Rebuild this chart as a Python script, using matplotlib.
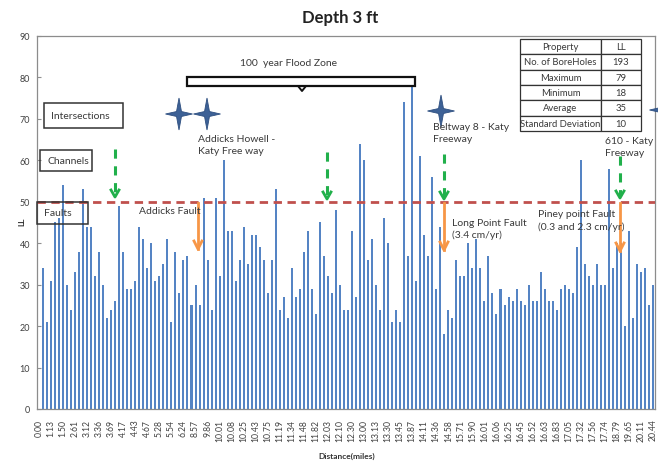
import numpy as np
import matplotlib
matplotlib.use("Agg")
from matplotlib import pyplot as plt
from matplotlib.patches import Rectangle, Polygon
from matplotlib.lines import Line2D

plt.rcParams['font.family'] = ['Lato', 'DejaVu Sans']

# distance labels shown under every third bore hole
distance_labels = ["0.00", "1.13", "1.50", "2.61", "3.12", "3.36", "3.69", "4.17", "4.43",
                   "4.67", "5.28", "5.54", "6.24", "8.57", "9.86", "10.01", "10.08", "10.25",
                   "10.43", "10.75", "11.19", "11.34", "11.48", "11.82", "12.03", "12.10",
                   "12.30", "13.00", "13.13", "13.30", "13.45", "13.87", "14.11", "14.36",
                   "14.58", "15.71", "15.90", "16.01", "16.06", "16.25", "16.45", "16.52",
                   "16.63", "16.83", "17.05", "17.32", "17.56", "17.74", "18.79", "19.65",
                   "20.11", "20.44"]

# liquid limit per bore hole (first position has no value)
ll_values = [0,
             34, 21, 31, 45, 46, 54, 30, 24, 33, 38,
             53, 44, 44, 32, 38, 30, 22, 24, 26, 49,
             38, 29, 29, 31, 44, 41, 34, 40, 31, 32,
             35, 41, 21, 38, 28, 36, 37, 25, 30, 25,
             51, 36, 24, 51, 32, 60, 43, 43, 31, 36,
             44, 35, 42, 42, 39, 36, 28, 36, 53, 24,
             27, 22, 34, 27, 29, 38, 43, 29, 23, 45,
             37, 32, 28, 48, 30, 24, 24, 43, 27, 64,
             60, 36, 41, 30, 24, 46, 40, 21, 24, 21,
             74, 37, 79, 31, 61, 42, 37, 56, 29, 44,
             18, 24, 22, 36, 32, 32, 40, 34, 41, 34,
             26, 37, 28, 23, 29, 25, 27, 26, 29, 26,
             25, 30, 26, 26, 33, 29, 26, 26, 24, 29,
             30, 29, 28, 39, 60, 35, 32, 30, 35, 30,
             30, 58, 34, 40, 40, 20, 43, 22, 35, 33,
             34, 25, 30]

label_step = 3
limit_line = 50

table_props = ["Property", "No. of BoreHoles", "Maximum", "Minimum", "Average", "Standard Deviation"]
table_vals = ["LL", "193", "79", "18", "35", "10"]

W, H = 658, 464
fig = plt.figure(figsize=(W / 100, H / 100), dpi=100)


def fx(x):
    return x / W


def fy(y):
    return 1 - y / H


ax = fig.add_axes([fx(37), fy(410), (655 - 37) / W, (410 - 37) / H])

pos = np.arange(len(ll_values))
ax.bar(pos, ll_values, width=0.5, color="#5584c4", linewidth=0, antialiased=False, zorder=2)
ax.axhline(limit_line, color="#c0504d", lw=2, ls=(0, (3, 2)), zorder=5)

ax.set_xlim(-0.5, len(ll_values) - 0.5)
ax.set_ylim(0, 90)
ax.set_yticks(np.arange(0, 91, 10))
ax.set_xticks(pos[::label_step])
ax.set_xticklabels(distance_labels, rotation=90, fontsize=6.2, color="#404040")
ax.tick_params(axis="x", length=0, pad=7)
ax.tick_params(axis="y", direction="in", length=3, color="#909090", labelsize=6.5,
               labelcolor="#404040", pad=5)
for s in ax.spines.values():
    s.set_color("#8c8c8c")
    s.set_linewidth(0.9)

fig.text(fx(340), fy(18), "Depth 3 ft", ha="center", va="center", fontsize=12, fontweight="bold",
         color="#222222")
fig.text(fx(347), fy(456), "Distance(miles)", ha="center", va="center", fontsize=6,
         fontweight="bold", color="#333333")
fig.text(fx(22), fy(222), "LL", ha="center", va="center", fontsize=6, fontweight="bold",
         rotation=90, color="#333333")

# legend style boxes on the left
for (x0, y0, x1, y1, txt) in [(44, 104, 123, 129, "Intersections"),
                              (40, 151, 92, 172, "Channels"),
                              (37, 203, 88, 225, "Faults")]:
    fig.add_artist(Rectangle((fx(x0), fy(y1)), (x1 - x0) / W, (y1 - y0) / H,
                             transform=fig.transFigure, facecolor="none",
                             edgecolor="#333333", lw=1.1, zorder=4))
    fig.text(fx(x0 + 7), fy((y0 + y1) / 2), txt, ha="left", va="center", fontsize=7.5,
             color="#3a3a3a", zorder=6)

# flood zone bracket
fig.add_artist(Rectangle((fx(187), fy(87)), (415 - 187) / W, 9 / H, transform=fig.transFigure,
                         facecolor="white", edgecolor="#111111", lw=1.6, zorder=3))
fig.add_artist(Line2D([fx(298), fx(302), fx(306)], [fy(87), fy(92), fy(87)],
                      transform=fig.transFigure, color="#111111", lw=1.4))
fig.text(fx(288), fy(63), "100  year Flood Zone", ha="center", va="center", fontsize=7.5,
         color="#3a3a3a")


def star(cx, cy):
    pts = []
    for k in range(8):
        a = np.pi / 2 + k * np.pi / 4
        if k % 2 == 0:
            rx, ry = 13.5, 16
        else:
            rx, ry = 3.5, 3.5
        pts.append((fx(cx + rx * np.cos(a)), fy(cy - ry * np.sin(a))))
    fig.add_artist(Polygon(pts, closed=True, transform=fig.transFigure,
                           facecolor="#3d6196", edgecolor="#2e4f80", lw=0.6, zorder=6))


for cx, cy in [(179, 115), (207, 115), (441, 112), (663, 111)]:
    star(cx, cy)


def green_arrow(x, y0, y1):
    fig.add_artist(Line2D([fx(x), fx(x)], [fy(y0), fy(y1 - 2)], transform=fig.transFigure,
                          color="#21b04b", lw=2.2, ls=(0, (3, 2.5)), zorder=6))
    fig.add_artist(Line2D([fx(x - 4), fx(x), fx(x + 4)], [fy(y1 - 7), fy(y1), fy(y1 - 7)],
                          transform=fig.transFigure, color="#21b04b", lw=2, zorder=6))


def orange_arrow(x, y0, y1):
    fig.add_artist(Line2D([fx(x), fx(x)], [fy(y0), fy(y1)], transform=fig.transFigure,
                          color="#f79646", lw=2, zorder=6))
    fig.add_artist(Line2D([fx(x - 4), fx(x), fx(x + 4)], [fy(y1 - 8), fy(y1), fy(y1 - 8)],
                          transform=fig.transFigure, color="#f79646", lw=2, zorder=6))


for x, y0, y1 in [(115, 150, 198), (327, 153, 200), (444, 155, 200), (620, 157, 199)]:
    green_arrow(x, y0, y1)
for x, y0, y1 in [(198, 204, 250), (444, 204, 251), (620, 204, 252)]:
    orange_arrow(x, y0, y1)

notes = [(198, 145.5, "Addicks Howell -\nKaty Free way"),
         (139, 212, "Addicks Fault"),
         (433, 133.5, "Beltway 8 - Katy\nFreeway"),
         (605, 147.5, "610 - Katy\nFreeway"),
         (452, 229.5, "Long Point Fault\n(3.4 cm/yr)"),
         (538, 221, "Piney point Fault\n(0.3 and 2.3 cm/yr)")]
for x, y, txt in notes:
    fig.text(fx(x), fy(y), txt, ha="left", va="center", fontsize=7.5, color="#3a3a3a",
             linespacing=1.45, zorder=7)

# summary table
tx0, tx1, tx2 = 520, 601, 641
ty0, rh = 40, 15.3
for i, (p, v) in enumerate(zip(table_props, table_vals)):
    yt = ty0 + i * rh
    for (a, b, t) in [(tx0, tx1, p), (tx1, tx2, v)]:
        fig.add_artist(Rectangle((fx(a), fy(yt + rh)), (b - a) / W, rh / H,
                                 transform=fig.transFigure, facecolor="white",
                                 edgecolor="#333333", lw=0.9, zorder=6))
        fig.text(fx((a + b) / 2), fy(yt + rh / 2), t, ha="center", va="center", fontsize=6.8,
                 color="#3a3a3a", zorder=7)

plt.savefig("out.png", dpi=100)
